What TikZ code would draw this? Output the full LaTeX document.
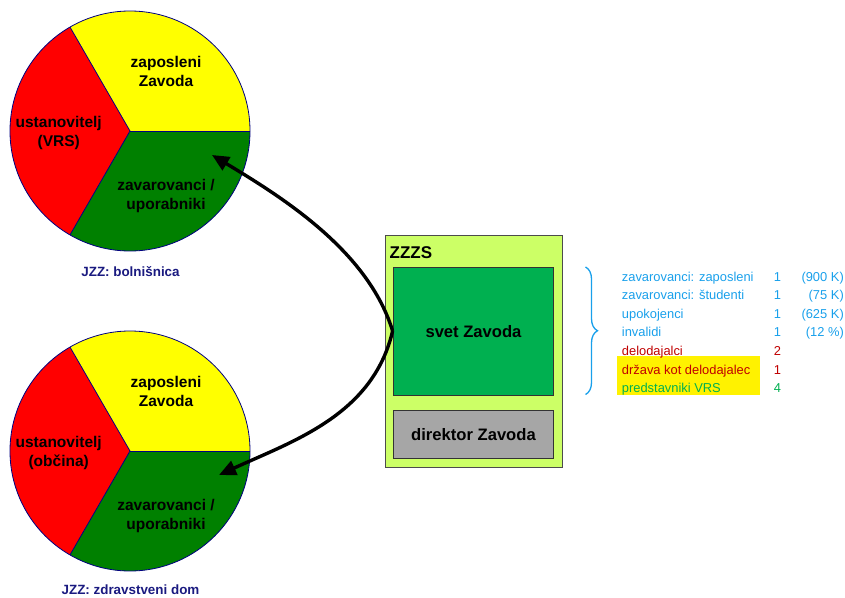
\documentclass[tikz,border=0pt]{standalone}
\usepackage{fontspec}
\setmainfont{Liberation Sans}
\usetikzlibrary{arrows.meta,decorations.pathreplacing}
\definecolor{pieyellow}{RGB}{255,255,0}
\definecolor{piered}{RGB}{255,0,0}
\definecolor{piegreen}{RGB}{0,128,0}
\definecolor{pieedge}{RGB}{0,0,128}
\definecolor{capblue}{RGB}{26,26,128}
\definecolor{zzzsfill}{RGB}{204,255,102}
\definecolor{svetfill}{RGB}{0,176,80}
\definecolor{dirfill}{RGB}{166,166,166}
\definecolor{listblue}{RGB}{25,160,235}
\definecolor{listred}{RGB}{192,0,0}
\definecolor{listgreen}{RGB}{0,176,80}
\begin{document}
\begin{tikzpicture}[x=1pt,y=-1pt,
  slice/.style={draw=pieedge,line width=0.8pt},
  pielabel/.style={align=center,font=\fontsize{15.5}{19}\selectfont\bfseries,inner sep=0pt},
  caption/.style={font=\fontsize{13.4}{16}\selectfont\bfseries,text=capblue,inner sep=0pt},
  boxlabel/.style={font=\fontsize{16.6}{20}\selectfont\bfseries,inner sep=0pt},
  listtext/.style={font=\fontsize{12.9}{15}\selectfont,inner sep=0pt,anchor=base west},
  listnum/.style={font=\fontsize{12.9}{15}\selectfont,inner sep=0pt,anchor=base},
  listpct/.style={font=\fontsize{12.9}{15}\selectfont,inner sep=0pt,anchor=base east,text=listblue},
  arrowline/.style={line width=3.4pt,-{Triangle[length=17pt,width=15pt]}}
]
\useasboundingbox (0,0) rectangle (845,597);

% pies
\foreach \cy in {131,451}{
  \fill[pieyellow] (130,\cy) -- ++(0:120) arc[start angle=0,end angle=-120,radius=120] -- cycle;
  \fill[piered] (130,\cy) -- ++(-120:120) arc[start angle=-120,end angle=-240,radius=120] -- cycle;
  \fill[piegreen] (130,\cy) -- ++(120:120) arc[start angle=120,end angle=0,radius=120] -- cycle;
  \draw[slice] (130,\cy) circle[radius=120];
  \draw[slice] (130,\cy) -- ++(0:120);
  \draw[slice] (130,\cy) -- ++(-120:120);
  \draw[slice] (130,\cy) -- ++(120:120);
}

% top pie labels
\node[pielabel] (zap1) at (166,71.5) {zaposleni\\Zavoda};
\node[pielabel] (ust1) at (58.7,132.5) {ustanovitelj\\(VRS)};
\node[pielabel] (zav1) at (166,195.5) {zavarovanci /\\uporabniki};
\node[caption] (cap1) at (130.5,271.5) {JZZ: bolnišnica};

% bottom pie labels
\node[pielabel] (zap2) at (166,391.5) {zaposleni\\Zavoda};
\node[pielabel] (ust2) at (58.7,452.5) {ustanovitelj\\(občina)};
\node[pielabel] (zav2) at (166,515.5) {zavarovanci /\\uporabniki};
\node[caption] (cap2) at (130.5,590) {JZZ: zdravstveni dom};

% ZZZS box
\node[draw=black!70,fill=zzzsfill,line width=0.8pt,minimum width=177pt,minimum height=232pt,inner sep=0pt] (zzzs) at (473.5,351) {};
\node[font=\fontsize{17}{20}\selectfont\bfseries,inner sep=0pt,anchor=west] (zzzslabel) at (389.5,252.5) {ZZZS};
\node[draw=black!80,fill=svetfill,line width=0.8pt,minimum width=160pt,minimum height=128pt,inner sep=0pt] (svet) at (473,331) {};
\node[boxlabel] (svetlabel) at (473.5,331.5) {svet Zavoda};
\node[draw=black!80,fill=dirfill,line width=0.8pt,minimum width=160pt,minimum height=48pt,inner sep=0pt] (dir) at (473,434) {};
\node[boxlabel] (dirlabel) at (473.5,434.5) {direktor Zavoda};

% arrows
\coordinate (tip1) at (212,155);
\coordinate (tip2) at (219,475);
\draw[arrowline] (svet.west) .. controls (368,250) and (280,196) .. (tip1);
\draw[arrowline] (svet.west) .. controls (373,415) and (293,441) .. (tip2);

% brace
\draw[listblue,line width=1.3pt,decorate,decoration={brace,amplitude=12pt}] (585.5,267) -- (585.5,394.5);

% highlight
\fill[yellow] (617,356) rectangle (760,395);

% list
\node[listtext,text=listblue] (l1) at (621.7,281) {zavarovanci: zaposleni};
\node[listtext,text=listblue] (l2) at (621.7,299.6) {zavarovanci: študenti};
\node[listtext,text=listblue] (l3) at (621.7,318.2) {upokojenci};
\node[listtext,text=listblue] (l4) at (621.7,336.8) {invalidi};
\node[listtext,text=listred] (l5) at (621.7,355.4) {delodajalci};
\node[listtext,text=listred] (l6) at (621.7,374) {država kot delodajalec};
\node[listtext,text=listgreen] (l7) at (621.7,392.6) {predstavniki VRS};

\node[listnum,text=listblue] (n1) at (777.5,281) {1};
\node[listnum,text=listblue] (n2) at (777.5,299.6) {1};
\node[listnum,text=listblue] (n3) at (777.5,318.2) {1};
\node[listnum,text=listblue] (n4) at (777.5,336.8) {1};
\node[listnum,text=listred] (n5) at (777.5,355.4) {2};
\node[listnum,text=listred] (n6) at (777.5,374) {1};
\node[listnum,text=listgreen] (n7) at (777.5,392.6) {4};

\node[listpct] (p1) at (844,281) {(900 K)};
\node[listpct] (p2) at (844,299.6) {(75 K)};
\node[listpct] (p3) at (844,318.2) {(625 K)};
\node[listpct] (p4) at (844,336.8) {(12 \%)};
\end{tikzpicture}
\end{document}
